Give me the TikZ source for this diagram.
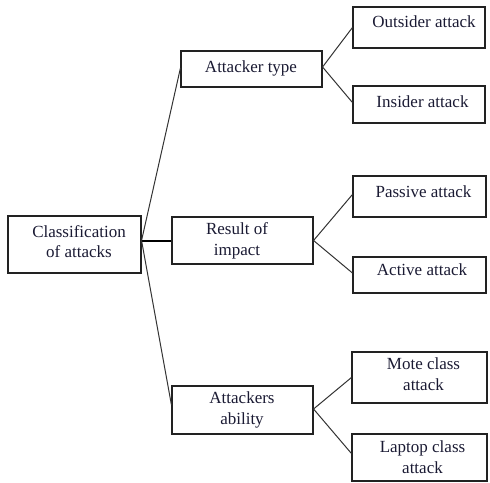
\documentclass[tikz,border=0pt]{standalone}
\usepackage{fontspec}
\setmainfont{Liberation Serif}
\definecolor{txt}{HTML}{1A1A33}
\definecolor{edge}{HTML}{222222}
\definecolor{conn}{HTML}{333333}
\begin{document}
\begin{tikzpicture}[x=1pt,y=-1pt,
  box/.style={draw=edge,line width=1.1pt,rectangle,inner sep=0pt},
  lbl/.style={text=txt,align=center,inner sep=0pt,font=\fontsize{17}{20.5}\selectfont},
  conline/.style={draw=conn,line width=1pt},
  thickline/.style={draw=black,line width=2pt}]
\useasboundingbox (0,0) rectangle (490,482);
% boxes
\node[box,minimum width=133pt,minimum height=57pt] (cls) at (74.5,244.5) {};
\node[box,minimum width=141pt,minimum height=36pt] (typ) at (251.5,69) {};
\node[box,minimum width=141pt,minimum height=47pt] (res) at (242.5,240.5) {};
\node[box,minimum width=141pt,minimum height=48pt] (abl) at (242.5,410) {};
\node[box,minimum width=132pt,minimum height=41pt] (out) at (419,27.5) {};
\node[box,minimum width=132pt,minimum height=37pt] (ins) at (419,104.5) {};
\node[box,minimum width=133pt,minimum height=41pt] (pas) at (419.5,196.5) {};
\node[box,minimum width=133pt,minimum height=36pt] (act) at (419.5,275) {};
\node[box,minimum width=135pt,minimum height=51pt] (mot) at (419.5,377.5) {};
\node[box,minimum width=135pt,minimum height=47pt] (lap) at (419.5,457.5) {};
% labels
\node[lbl] (tcls) at (79,241.5) {Classification\\of attacks};
\node[lbl] (ttyp) at (251,68) {Attacker type};
\node[lbl] (tres) at (237,241) {Result of\\impact};
\node[lbl] (tabl) at (242,410) {Attackers\\ability};
\node[lbl] (tout) at (424,22) {Outsider attack};
\node[lbl] (tins) at (422.5,102) {Insider attack};
\node[lbl] (tpas) at (423.5,192) {Passive attack};
\node[lbl] (tact) at (422,270) {Active attack};
\node[lbl] (tmot) at (423.5,374) {Mote class\\attack};
\node[lbl] (tlap) at (422.5,457) {Laptop class\\attack};
% connectors
\coordinate (j) at ([yshift=4pt]cls.east);
\draw[thickline] (j) -- (j -| res.west);
\draw[conline] (j) -- ([yshift=1pt]typ.west);
\draw[conline] (j) -- ([yshift=5pt]abl.west);
\draw[conline] ([yshift=2pt]typ.east) -- (out.west);
\draw[conline] ([yshift=2pt]typ.east) -- ([yshift=2pt]ins.west);
\draw[conline] (res.east) -- ([yshift=2pt]pas.west);
\draw[conline] (res.east) -- ([yshift=2pt]act.west);
\draw[conline] ([yshift=1pt]abl.east) -- (mot.west);
\draw[conline] ([yshift=1pt]abl.east) -- ([yshift=4pt]lap.west);
\end{tikzpicture}
\end{document}
